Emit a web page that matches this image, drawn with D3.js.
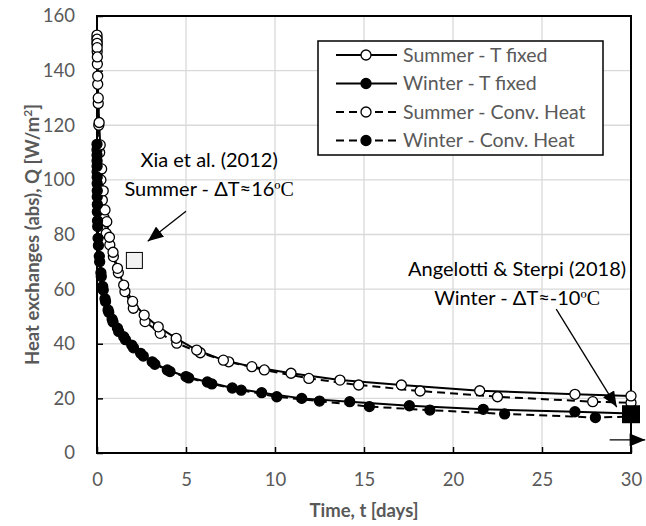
<!DOCTYPE html>
<html><head><meta charset="utf-8">
<script src="https://cdn.jsdelivr.net/npm/d3@7"></script>
<style>body{margin:0;background:#fff}svg{display:block}</style>
</head><body><svg id="c" width="646" height="526"></svg>
<script>
const xTicks = [0,5,10,15,20,25,30];
const yTicks = [0,20,40,60,80,100,120,140,160];

const summerFixed = [[0,153],[0.003,151.5],[0.006,150],[0.01,148.4],[0.02,145],[0.04,138],[0.07,130],[0.12,121],[0.18,112.8],[0.26,104],[0.35,96],[0.45,89],[0.55,84.7],[0.7,79],[0.9,73.5],[1.15,67.6],[1.5,61.5],[2.0,55.5],[2.65,50.5],[3.44,46.2],[4.45,42],[5.6,37.7],[7.1,34.0],[8.7,31.6],[10.9,29.2],[13.65,26.7],[17.1,24.9],[21.5,22.8],[26.85,21.5],[30,20.9]];
const summerConv = [[0,152],[0.003,150.6],[0.006,149.5],[0.01,147],[0.02,142.4],[0.04,135],[0.07,128],[0.1,120],[0.15,110],[0.22,100],[0.3,92.6],[0.4,86],[0.52,80.4],[0.72,76.2],[0.92,71.9],[1.2,66],[1.57,59.1],[2.04,53],[2.7,48.1],[3.55,43.8],[4.48,40.2],[5.8,36.7],[7.4,33.4],[9.4,30.4],[11.9,27.3],[14.7,24.9],[18.15,22.7],[22.5,20.6],[27.85,18.8],[30,18.4]];
const winterFixed = [[0,113],[0.003,109],[0.006,105],[0.01,101],[0.015,96],[0.02,91],[0.03,85],[0.06,78.6],[0.13,72],[0.22,66],[0.32,61],[0.45,56.5],[0.62,52.4],[0.85,49],[1.15,45.7],[1.5,42.6],[1.95,39.5],[2.45,36.5],[3.1,33.4],[3.95,30.4],[5.0,28],[6.2,26],[7.6,23.8],[9.25,22.1],[11.5,20.0],[14.2,18.8],[17.55,17.3],[21.7,16.0],[26.85,15.1],[30,14.5]];
const winterConv = [[0,111],[0.003,107],[0.006,103],[0.01,98.7],[0.015,93.8],[0.02,88.3],[0.04,82.9],[0.08,76],[0.15,70],[0.24,64.6],[0.35,59.7],[0.48,55.5],[0.66,51.5],[0.9,48],[1.22,44.5],[1.6,41.5],[2.05,38.5],[2.6,35.5],[3.25,32.5],[4.1,29.8],[5.15,27.5],[6.45,25.3],[8.1,23],[10.1,20.6],[12.5,19.0],[15.3,17.0],[18.7,15.7],[22.9,14.3],[28.0,13.0],[30,13.3]];

const seriesNames = ["Summer - T fixed","Winter - T fixed","Summer - Conv. Heat","Winter - Conv. Heat"];
const seriesData = [summerFixed, winterFixed, summerConv, winterConv];
const seriesFilled = [false, true, false, true];
const seriesDashed = [false, false, true, true];

// literature points: [t, Q]
const xiaPoint = [2.1, 70.5];
const angelottiPoint = [30, 14.2];
const noteLines1 = [["Xia et al. (2012)",""], ["Summer - ΔT≈16","ºC"]];
const noteLines2 = [["Angelotti & Sterpi (2018)",""], ["Winter - ΔT≈-10","ºC"]];

const svg = d3.select("#c");
const W = 646, H = 526;
const m = {l:97, r:15, t:16, b:73};
const x = d3.scaleLinear().domain([0,30]).range([m.l, W-m.r]);
const y = d3.scaleLinear().domain([0,160]).range([H-m.b, m.t]);
const font = "Lato, 'Open Sans', sans-serif";
const gray = "#595959";

// grid
svg.append("g").selectAll("line").data(xTicks.slice(1,-1)).join("line")
  .attr("x1",d=>x(d)).attr("x2",d=>x(d)).attr("y1",y(0)).attr("y2",y(160))
  .attr("stroke","#d9d9d9").attr("stroke-width",1.3);
svg.append("g").selectAll("line").data(yTicks.slice(1,-1)).join("line")
  .attr("x1",x(0)).attr("x2",x(30)).attr("y1",d=>y(d)).attr("y2",d=>y(d))
  .attr("stroke","#d9d9d9").attr("stroke-width",1.3);

// frame
svg.append("rect").attr("x",x(0)).attr("y",y(160)).attr("width",x(30)-x(0)).attr("height",y(0)-y(160))
  .attr("fill","none").attr("stroke","#000").attr("stroke-width",2);

// axes
const xa = svg.append("g").attr("transform",`translate(0,${y(0)})`)
  .call(d3.axisBottom(x).tickValues(xTicks).tickSize(-6).tickPadding(20).tickFormat(d3.format("d")));
const ya = svg.append("g").attr("transform",`translate(${x(0)},0)`)
  .call(d3.axisLeft(y).tickValues(yTicks).tickSize(-6).tickPadding(22).tickFormat(d3.format("d")));
[xa,ya].forEach(a=>{
  a.select(".domain").remove();
  a.selectAll(".tick line").attr("stroke","#000").attr("stroke-width",1.5);
  a.selectAll(".tick text").attr("fill",gray).attr("font-family",font).attr("font-size",18.5);
});

// axis titles
svg.append("text").attr("x",(x(0)+x(30))/2).attr("y",517).attr("text-anchor","middle")
  .attr("font-family",font).attr("font-weight","bold").attr("font-size",18.5).attr("fill",gray)
  .text("Time, t [days]");
const yt = svg.append("text").attr("transform",`translate(39,${(y(0)+y(160))/2}) rotate(-90)`)
  .attr("text-anchor","middle").attr("font-family",font).attr("font-weight","bold").attr("font-size",18.5).attr("fill",gray);
yt.append("tspan").text("Heat exchanges (abs), Q [W/m");
yt.append("tspan").attr("font-size",12).attr("dy",-7).text("2");
yt.append("tspan").attr("dy",7).text("]");

// series
const line = d3.line().x(d=>x(d[0])).y(d=>y(d[1]));
const order = [2,3,0,1];
order.forEach(i=>{
  svg.append("path").datum(seriesData[i]).attr("d",line).attr("fill","none")
    .attr("stroke","#000").attr("stroke-width",2)
    .attr("stroke-dasharray",seriesDashed[i]?"8,5":null);
});
order.forEach(i=>{
  svg.append("g").selectAll("circle").data(seriesData[i]).join("circle")
    .attr("cx",d=>x(d[0])).attr("cy",d=>y(d[1])).attr("r",5)
    .attr("fill",seriesFilled[i]?"#000":"#fff").attr("stroke","#000").attr("stroke-width",1.3);
});

// literature points
svg.append("rect").attr("x",x(xiaPoint[0])-8).attr("y",y(xiaPoint[1])-8).attr("width",16).attr("height",16)
  .attr("fill","#f2f2f2").attr("stroke","#000").attr("stroke-width",1);
svg.append("rect").attr("x",x(angelottiPoint[0])-9).attr("y",y(angelottiPoint[1])-9).attr("width",18).attr("height",18)
  .attr("fill","#000");

// arrows
const defs = svg.append("defs");
defs.append("marker").attr("id","ah").attr("viewBox","0 0 12 10").attr("refX",12).attr("refY",5)
  .attr("markerWidth",16).attr("markerHeight",13).attr("markerUnits","userSpaceOnUse").attr("orient","auto")
  .append("path").attr("d","M0,0L12,5L0,10Z").attr("fill","#000");
const arrows = [
  [[5.0,88.5],[2.85,77.5]],
  [[25.8,52.7],[29.2,16.8]],
  [[28.8,4.8],[30.8,4.8]]
];
arrows.forEach(a=>{
  svg.append("line").attr("x1",x(a[0][0])).attr("y1",y(a[0][1])).attr("x2",x(a[1][0])).attr("y2",y(a[1][1]))
    .attr("stroke","#000").attr("stroke-width",1.3).attr("marker-end","url(#ah)");
});

// notes
function note(lines, cx, yTop){
  lines.forEach((s,k)=>{
    const t = svg.append("text").attr("x",cx).attr("y",yTop+k*29).attr("text-anchor","middle")
      .attr("font-family",font).attr("font-size",20).attr("fill","#000");
    t.append("tspan").text(s[0]);
    if (s[1]) t.append("tspan").attr("font-family","'Liberation Serif', serif").text(s[1]);
  });
}
note(noteLines1, x(6.3), y(104.8));
note(noteLines2, x(23.6), y(64.8));

// legend
const lg = svg.append("g");
lg.append("rect").attr("x",318).attr("y",41).attr("width",285).attr("height",114)
  .attr("fill","#fff").attr("stroke","#000").attr("stroke-width",1.5);
seriesNames.forEach((n,i)=>{
  const yy = 55 + i*28.5;
  lg.append("line").attr("x1",336).attr("x2",397).attr("y1",yy).attr("y2",yy)
    .attr("stroke","#000").attr("stroke-width",2).attr("stroke-dasharray",seriesDashed[i]?"8,5":null);
  lg.append("circle").attr("cx",366).attr("cy",yy).attr("r",5)
    .attr("fill",seriesFilled[i]?"#000":"#fff").attr("stroke","#000").attr("stroke-width",1.3);
  lg.append("text").attr("x",403).attr("y",yy+6.5).attr("font-family",font).attr("font-size",19.5)
    .attr("fill",gray).text(n);
});
</script></body></html>
